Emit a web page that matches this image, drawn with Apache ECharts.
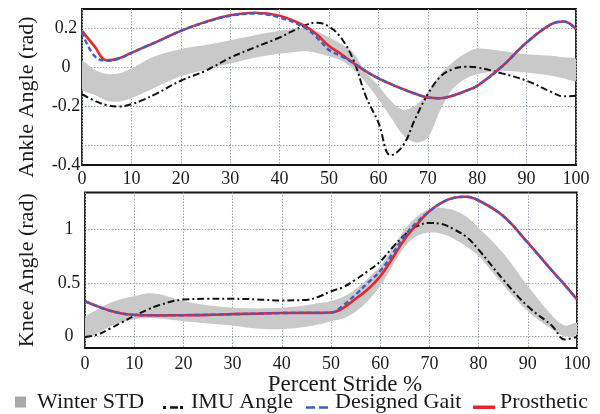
<!DOCTYPE html>
<html><head><meta charset="utf-8">
<script src="https://cdn.jsdelivr.net/npm/echarts@6/dist/echarts.min.js"></script>
<style>html,body{margin:0;padding:0;background:#fff}#c{width:600px;height:414px}</style>
</head><body><div id="c"></div>
<script>
// Percent stride sample positions (shared by all curves)
const stride = [0,2.5,5,7.5,10,12.5,15,20,25,30,35,40,45,47.5,50,52.5,55,57.5,60,62.5,65,67.5,70,72.5,75,77.5,80,85,90,95,97.5,100];

// Ankle angle (rad)
const ankleProsthetic = [0.188,0.11,0.037,0.048,0.075,0.103,0.13,0.188,0.234,0.268,0.281,0.265,0.214,0.17,0.11,0.068,0.022,-0.02,-0.056,-0.085,-0.111,-0.135,-0.154,-0.158,-0.145,-0.122,-0.094,0.005,0.128,0.222,0.236,0.197];
const ankleDesigned   = [0.18,0.06,0.034,0.046,0.075,0.103,0.13,0.188,0.232,0.265,0.277,0.256,0.205,0.155,0.09,0.058,0.022,-0.02,-0.056,-0.085,-0.111,-0.135,-0.154,-0.158,-0.145,-0.122,-0.094,0.005,0.128,0.222,0.236,0.197];
const ankleIMU        = [-0.137,-0.17,-0.193,-0.2,-0.188,-0.165,-0.135,-0.068,-0.017,0.05,0.103,0.154,0.215,0.23,0.21,0.15,0.035,-0.15,-0.282,-0.45,-0.40,-0.26,-0.137,-0.048,-0.009,0.004,0.0,-0.03,-0.068,-0.125,-0.148,-0.145];
const ankleStdUpper   = [0.03,-0.01,-0.033,-0.03,-0.005,0.03,0.06,0.095,0.115,0.14,0.165,0.188,0.2,0.185,0.155,0.12,0.073,-0.026,-0.094,-0.17,-0.218,-0.195,-0.128,-0.035,0.026,0.07,0.097,0.085,0.068,0.06,0.052,0.043];
const ankleStdLower   = [-0.11,-0.14,-0.17,-0.175,-0.158,-0.13,-0.1,-0.045,-0.012,0.02,0.05,0.07,0.085,0.075,0.058,0.036,-0.01,-0.08,-0.162,-0.255,-0.345,-0.385,-0.36,-0.22,-0.11,-0.06,-0.034,-0.017,-0.026,-0.042,-0.055,-0.068];

// Knee angle (rad)
const kneeProsthetic = [0.328,0.28,0.24,0.212,0.2,0.196,0.195,0.197,0.2,0.207,0.212,0.217,0.219,0.219,0.222,0.265,0.35,0.44,0.56,0.73,0.91,1.05,1.17,1.25,1.295,1.305,1.27,1.125,0.875,0.61,0.48,0.344];
const kneeDesigned   = [0.328,0.28,0.24,0.212,0.2,0.196,0.195,0.197,0.2,0.207,0.212,0.217,0.219,0.219,0.222,0.29,0.39,0.5,0.61,0.77,0.94,1.07,1.17,1.25,1.295,1.305,1.27,1.125,0.875,0.61,0.48,0.344];
const kneeIMU        = [-0.006,0.015,0.07,0.13,0.19,0.245,0.29,0.344,0.35,0.35,0.345,0.335,0.34,0.37,0.42,0.46,0.53,0.61,0.70,0.83,0.95,1.03,1.06,1.05,1.0,0.93,0.81,0.53,0.28,0.094,-0.03,-0.006];
const kneeStdUpper   = [0.17,0.25,0.31,0.35,0.375,0.4,0.395,0.33,0.29,0.266,0.26,0.266,0.29,0.31,0.33,0.37,0.44,0.54,0.656,0.82,1.0,1.12,1.19,1.2,1.18,1.12,1.016,0.78,0.47,0.19,0.1,0.125];
const kneeStdLower   = [-0.02,0.03,0.09,0.13,0.156,0.17,0.165,0.14,0.12,0.1,0.07,0.068,0.09,0.11,0.14,0.165,0.23,0.33,0.47,0.66,0.84,0.94,0.97,0.96,0.91,0.84,0.75,0.48,0.234,0.0625,0.0,0.016];

// Tick labels
const xTicks = [0,10,20,30,40,50,60,70,80,90,100];
const ankleGridValues = [0.2, 0, -0.2, -0.4];
const ankleLabelValues = [0.2, 0, -0.2, -0.5];
const ankleLabelTexts = ['0.2', '0', '-0.2', '-0.4'];
const kneeTickValues = [0, 0.5, 1];
const kneeTickLabels = ['0', '0.5', '1'];

const names = ['Winter STD', 'IMU Angle', 'Designed Gait', 'Prosthetic'];

const FONT = '"Liberation Serif","Times New Roman",serif';
const TXT = '#1a1a1a';
const GRIDLINE = {show: true, lineStyle: {color: '#97a3b0', width: 1, type: [1.5, 1.5]}};
const RED = '#e8262a', BLUE = '#3a5fcd', BLACK = '#111111', BAND = '#c9c9c9';

function pts(ys) { return stride.map((x, i) => [x, ys[i]]); }

function bandSeries(idx, upper, lower) {
  return {
    type: 'custom', name: names[0], xAxisIndex: idx, yAxisIndex: idx, z: 1, clip: true,
    itemStyle: {color: BAND},
    data: [[0, 0]],
    renderItem: function (params, api) {
      const up = upper.map((v, i) => api.coord([stride[i], v]));
      const lo = lower.map((v, i) => api.coord([stride[i], v])).reverse();
      return {type: 'polygon', shape: {points: up.concat(lo), smooth: 0.3}, style: {fill: BAND}};
    }
  };
}
function lineSeries(idx, name, ys, color, type, width, z) {
  return {
    type: 'line', name: name, xAxisIndex: idx, yAxisIndex: idx, data: pts(ys),
    symbol: 'none', smooth: 0.4, z: z,
    lineStyle: {color: color, width: width, type: type}, itemStyle: {color: color}
  };
}
function xAxisDef(idx, margin, name) {
  const a = {
    type: 'value', gridIndex: idx, min: 0, max: 100, interval: 10,
    axisLine: {show: false}, axisTick: {show: false}, splitLine: GRIDLINE,
    axisLabel: {color: TXT, fontFamily: FONT, fontSize: 18, margin: margin, customValues: xTicks}
  };
  if (name) {
    a.name = name; a.nameLocation = 'middle'; a.nameGap = 14;
    a.nameTextStyle = {fontFamily: FONT, fontSize: 23, color: TXT, padding: [0, 0, 0, 28]};
  }
  return a;
}
function legendItem(left, name, icon, w, h, color, pad) {
  return {
    left: left, top: 391, padding: 0, itemWidth: w, itemHeight: h,
    textStyle: {fontFamily: FONT, fontSize: 22, color: TXT, padding: [0, 0, 0, pad]},
    data: [{name: name, icon: icon, itemStyle: {color: color}}]
  };
}

const chart = echarts.init(document.getElementById('c'), null, {renderer: 'canvas'});

chart.setOption({
  backgroundColor: '#ffffff',
  animation: false,
  grid: [
    {left: 82, top: 9, width: 494, height: 156, show: true, borderColor: '#151515', borderWidth: 1.8, backgroundColor: '#fff'},
    {left: 85, top: 192.5, width: 492, height: 155.5, show: true, borderColor: '#151515', borderWidth: 1.8, backgroundColor: '#fff'}
  ],
  xAxis: [xAxisDef(0, 5), xAxisDef(1, 7, 'Percent Stride %')],
  yAxis: [
    {type: 'value', gridIndex: 0, min: -0.5, max: 0.3,
     name: 'Ankle Angle (rad)', nameLocation: 'middle', nameGap: 44,
     nameTextStyle: {fontFamily: FONT, fontSize: 22, color: TXT, padding: [0, 20, 0, 0]},
     axisLine: {show: false}, axisTick: {show: false, customValues: ankleGridValues}, splitLine: GRIDLINE,
     axisLabel: {color: TXT, fontFamily: FONT, fontSize: 18, margin: 16, align: 'center',
       customValues: ankleLabelValues,
       formatter: v => { const i = ankleLabelValues.findIndex(t => Math.abs(t - v) < 1e-9); return i >= 0 ? ankleLabelTexts[i] : ''; }}},
    {type: 'value', gridIndex: 1, min: -0.11, max: 1.345,
     name: 'Knee Angle (rad)', nameLocation: 'middle', nameGap: 47,
     nameTextStyle: {fontFamily: FONT, fontSize: 22, color: TXT},
     axisLine: {show: false}, axisTick: {show: false, customValues: kneeTickValues}, splitLine: GRIDLINE,
     axisLabel: {color: TXT, fontFamily: FONT, fontSize: 18, margin: 16, align: 'center',
       customValues: kneeTickValues,
       formatter: v => { const i = kneeTickValues.findIndex(t => Math.abs(t - v) < 1e-9); return i >= 0 ? kneeTickLabels[i] : ''; }}}
  ],
  legend: [
    legendItem(15, names[0], 'rect', 11, 11, '#a9a9a9', 6),
    legendItem(163, names[1], 'path://M0,0h0.01v0.01h-0.01zM0,11h3v3h-3zM7,11.3h8v2.4h-8zM17,11h3v3h-3z', 20, 14, BLACK, 3),
    legendItem(306, names[2], 'path://M0,0h0.01v0.01h-0.01zM0,11h9v2.6h-9zM13,11h9v2.6h-9z', 22, 14, BLUE, 2),
    legendItem(473, names[3], 'path://M0,0h0.01v0.01h-0.01zM0,10.5h22v3.5h-22z', 22, 14, RED, 0)
  ],
  series: [
    bandSeries(0, ankleStdUpper, ankleStdLower),
    lineSeries(0, names[1], ankleIMU, BLACK, [7, 3, 2, 3], 2, 2),
    lineSeries(0, names[3], ankleProsthetic, RED, 'solid', 2.6, 3),
    lineSeries(0, names[2], ankleDesigned, BLUE, [5, 3], 2.4, 4),
    bandSeries(1, kneeStdUpper, kneeStdLower),
    lineSeries(1, names[1], kneeIMU, BLACK, [7, 3, 2, 3], 2, 2),
    lineSeries(1, names[3], kneeProsthetic, RED, 'solid', 2.6, 3),
    lineSeries(1, names[2], kneeDesigned, BLUE, [5, 3], 2.4, 4)
  ]
});
</script>
</body></html>
